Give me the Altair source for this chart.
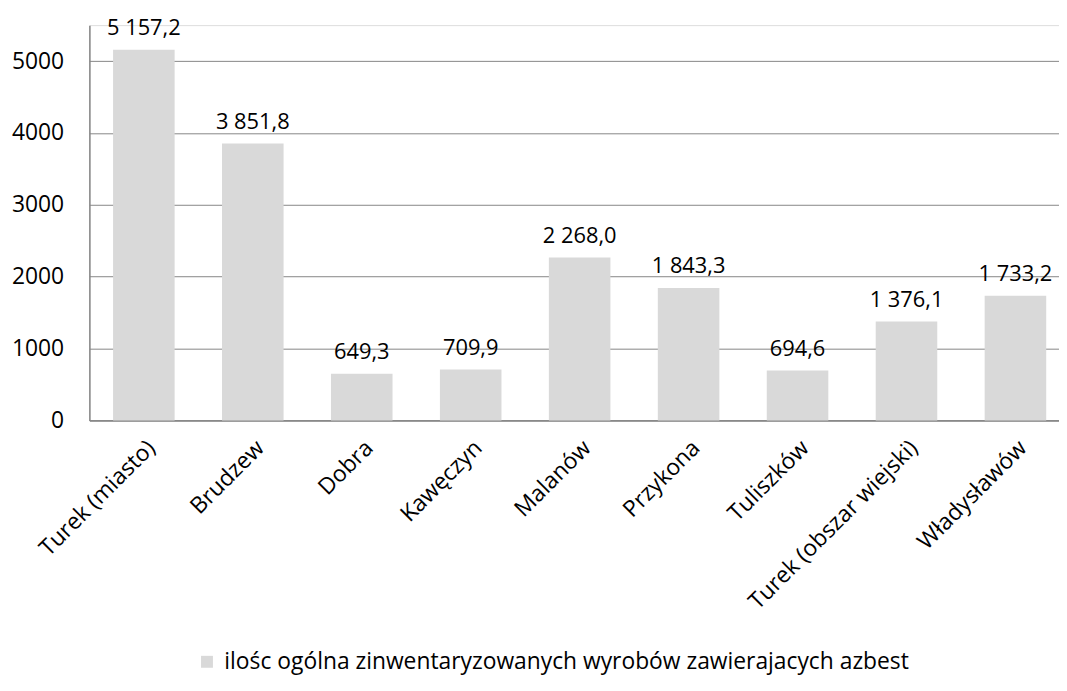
import altair as alt
import pandas as pd

categories = ["Turek (miasto)", "Brudzew", "Dobra", "Kawęczyn", "Malanów",
              "Przykona", "Tuliszków", "Turek (obszar wiejski)", "Władysławów"]
values = [5157.2, 3851.8, 649.3, 709.9, 2268.0, 1843.3, 694.6, 1376.1, 1733.2]
series_name = "ilośc ogólna zinwentaryzowanych wyrobów zawierajacych azbest"
y_ticks = [0, 1000, 2000, 3000, 4000, 5000]

df = pd.DataFrame({"gmina": categories, "ilosc": values, "seria": series_name})

FONT = "Open Sans"
GRAY = "#868686"
FS = 23

x = alt.X(
    "gmina:N", sort=categories,
    scale=alt.Scale(range=[0, 988], paddingInner=0.435, paddingOuter=0.2175),
    axis=alt.Axis(title=None, labelAngle=-45, labelAlign="right", labelBaseline="top",
                  labelFontSize=FS, labelFont=FONT, labelColor="#000", labelPadding=16,
                  ticks=False, domainColor=GRAY, domainWidth=1.5, labelLimit=0),
)
y = alt.Y(
    "ilosc:Q",
    scale=alt.Scale(domain=[0, 5500], nice=False),
    axis=alt.Axis(title=None, values=y_ticks, format="d", grid=True, gridColor=GRAY,
                  gridWidth=1, ticks=False, labelPadding=26, domainColor=GRAY,
                  domainWidth=1.5, labelFontSize=FS, labelFont=FONT, labelColor="#000"),
)

bars = alt.Chart(df).mark_bar(color="#d9d9d9").encode(
    x=x, y=y,
    color=alt.Color("seria:N", scale=alt.Scale(range=["#d9d9d9"]),
                    legend=alt.Legend(title=None, orient="none", legendX=107, legendY=630,
                                      symbolType="square", symbolSize=144,
                                      symbolStrokeWidth=0, labelFontSize=FS,
                                      labelFont=FONT, labelColor="#000", labelLimit=0,
                                      labelOffset=6)),
)

labels = alt.Chart(df).mark_text(dy=-15, baseline="alphabetic", fontSize=FS - 1, font=FONT,
                                 color="#000").encode(
    x=x, y=y, text=alt.Text("ilosc:Q", format=",.1f"),
)

chart = alt.layer(bars, labels).properties(
    width=977, height=398.3,
    padding={"left": 82, "top": 14.7, "right": 0, "bottom": 262},
    autosize="none",
).configure_view(strokeWidth=0).configure(
    locale={"number": {"decimal": ",", "thousands": " ", "grouping": [3],
                       "currency": ["", " zł"]}}
)

chart.save("out.html", embed_options={"renderer": "svg", "actions": False})
